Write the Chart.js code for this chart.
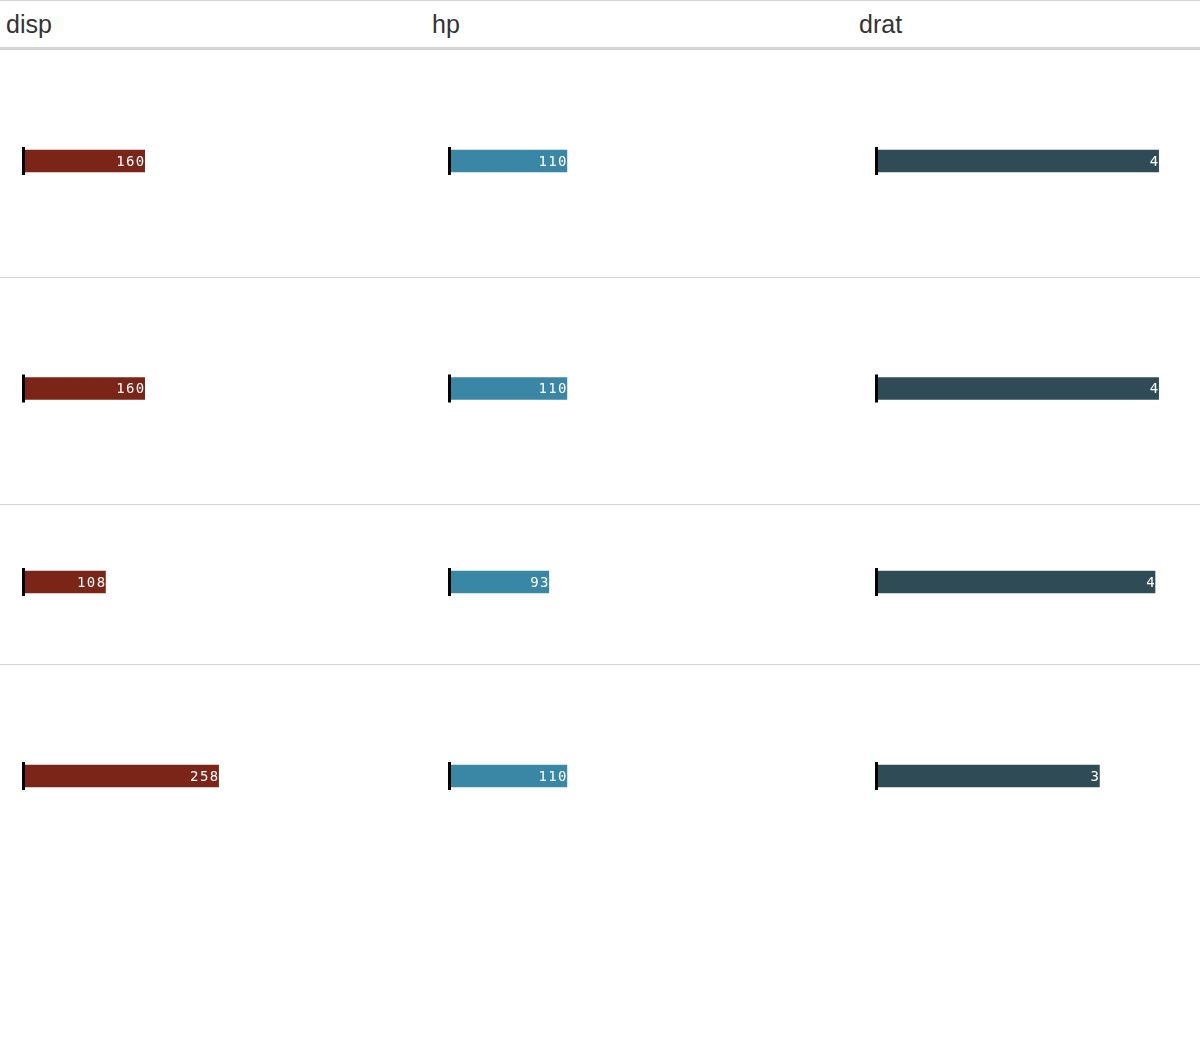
<!DOCTYPE html>
<html>
<head>
<meta charset="utf-8">
<script src="https://cdn.jsdelivr.net/npm/chart.js@4/dist/chart.umd.min.js"></script>
<style>
  body { margin: 0; background: #fff; font-family: "Liberation Sans", Arial, sans-serif; }
  #tbl { position: relative; width: 1200px; }
  .hdr { position: relative; height: 46px; border-top: 1px solid #d3d3d3; border-bottom: 3px solid #d3d3d3; }
  .hdr span { position: absolute; top: 9px; font-size: 25px; color: #333; }
  .row { position: relative; border-bottom: 1px solid #d3d3d3; }
  .row.last { border-bottom: none; }
  .cell { position: absolute; top: 0; width: 400px; }
</style>
</head>
<body>
<div id="tbl"></div>
<script>
// mtcars, first four rows
const columns = ["disp", "hp", "drat"];
const disp = [160, 160, 108, 258];
const hp = [110, 110, 93, 110];
const drat = [3.90, 3.90, 3.85, 3.08];
// bars are scaled against the max of the whole mtcars column
const colMax = [472, 335, 4.93];
const colors = ["#7B2418", "#3A87A5", "#2F4B55"];
const rowHeights = [227, 226, 159, 227];

const series = [disp, hp, drat];
const colLeft = [0, 426, 853];

// black tick at zero + value label, like gt_plt_bar
const zeroLine = {
  id: "zeroLine",
  afterDatasetsDraw(chart) {
    const ctx = chart.ctx;
    const x0 = chart.scales.x.getPixelForValue(0);
    const bar = chart.getDatasetMeta(0).data[0];
    ctx.save();
    ctx.fillStyle = "#000";
    ctx.fillRect(x0 - 2, bar.y - 14, 3, 28);
    ctx.font = "14px 'DejaVu Sans Mono', 'Liberation Mono', monospace";
    ctx.letterSpacing = "1.4px";
    ctx.fillStyle = "#fff";
    ctx.textAlign = "right";
    ctx.textBaseline = "middle";
    const v = chart.data.datasets[0].data[0];
    ctx.fillText(String(Math.round(v)), bar.x + 1, bar.y + 1);
    ctx.restore();
  }
};

const tbl = document.getElementById("tbl");
const hdr = document.createElement("div");
hdr.className = "hdr";
columns.forEach((c, i) => {
  const s = document.createElement("span");
  s.textContent = c;
  s.style.left = (colLeft[i] + 6) + "px";
  hdr.appendChild(s);
});
tbl.appendChild(hdr);

rowHeights.forEach((h, r) => {
  const row = document.createElement("div");
  row.className = "row" + (r === rowHeights.length - 1 ? " last" : "");
  row.style.height = h + "px";
  tbl.appendChild(row);
  series.forEach((vals, c) => {
    const cell = document.createElement("div");
    cell.className = "cell";
    cell.style.left = colLeft[c] + "px";
    cell.style.height = h + "px";
    const cv = document.createElement("canvas");
    cell.appendChild(cv);
    row.appendChild(cell);
    new Chart(cv, {
      type: "bar",
      data: {
        labels: [""],
        datasets: [{
          data: [vals[r]],
          backgroundColor: colors[c],
          borderWidth: 0,
          barThickness: 22
        }]
      },
      options: {
        indexAxis: "y",
        responsive: true,
        maintainAspectRatio: false,
        animation: false,
        layout: { padding: { left: 24, right: 20, top: 0, bottom: 5 } },
        plugins: { legend: { display: false }, tooltip: { enabled: false } },
        scales: {
          x: { min: 0, max: colMax[c], display: false },
          y: { display: false }
        }
      },
      plugins: [zeroLine]
    });
  });
});
</script>
</body>
</html>
